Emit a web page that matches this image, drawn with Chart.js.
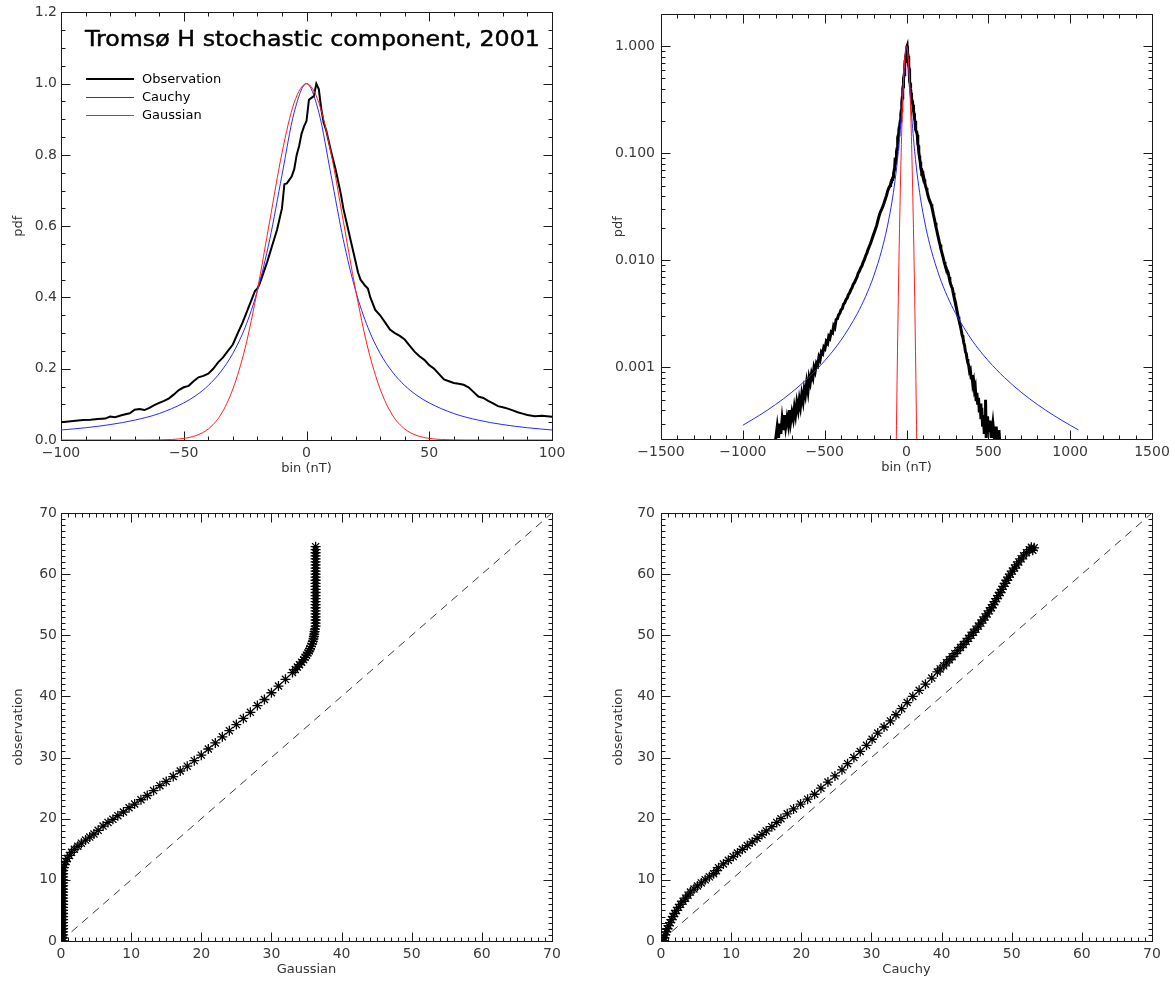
<!DOCTYPE html>
<html><head><meta charset="utf-8">
<script src="https://cdn.jsdelivr.net/npm/chart.js@4.4.1/dist/chart.umd.min.js"></script>
<style>
html,body{margin:0;padding:0;background:#fff;}
#wrap{position:relative;width:1175px;height:981px;overflow:hidden;background:#fff;}
canvas{position:absolute;left:0;top:0;}
.t{position:absolute;font-family:'DejaVu Sans',sans-serif;color:#000;white-space:nowrap;}
</style></head><body>
<div id="wrap">
<canvas id="c1" width="1175" height="981"></canvas>
<canvas id="c2" width="1175" height="981"></canvas>
<canvas id="c3" width="1175" height="981"></canvas>
<canvas id="c4" width="1175" height="981"></canvas>
<div id="ttl" class="t" style="left:85px;top:28px;font-size:22px;line-height:22px;transform-origin:0 0;-webkit-text-stroke:0.45px #000;">Tromsø H stochastic component, 2001</div>
<div class="t" style="left:142px;top:72px;font-size:13px;line-height:13px;">Observation</div>
<div class="t" style="left:142px;top:90px;font-size:13px;line-height:13px;">Cauchy</div>
<div class="t" style="left:142px;top:108px;font-size:13px;line-height:13px;">Gaussian</div>
</div>
<script>
// ---------- DATA ----------
// Observed pdf (normalised histogram), left tail / core / right tail
const obsLeftBin = [-800,-790,-782,-775,-768,-760,-752,-745,-738,-730,-722,-715,-708,-700,-692,-685,-678,-670,-662,-655,-648,-640,-632,-625,-618,-610,-602,-595,-588,-580,-572,-565,-558,-550,-542,-535,-528,-520,-512,-505,-498,-490,-482,-475,-468,-460,-452,-445,-438,-430,-422,-415,-408,-400,-392,-385,-378,-370,-362,-355,-348,-340,-332,-325,-318,-310,-302,-295,-288,-280,-272,-265,-258,-250,-242,-235,-228,-220,-212,-205,-198,-190,-182,-175,-168,-160,-152,-145,-138,-130,-122,-115,-108];
const obsLeftPdf = [0.00021,0.00028,0.00022,0.00030,0.00024,0.00033,0.00026,0.00036,0.00028,0.00034,0.00029,0.00040,0.00031,0.00038,0.00033,0.00042,0.00036,0.00047,0.00040,0.00050,0.00043,0.00056,0.00048,0.00062,0.00055,0.00072,0.00060,0.00080,0.00072,0.00088,0.00080,0.00100,0.00092,0.00110,0.00105,0.00125,0.00118,0.00140,0.00135,0.00155,0.00150,0.00175,0.00168,0.00195,0.00188,0.00215,0.00210,0.00245,0.00235,0.00280,0.00285,0.00310,0.00320,0.00345,0.00355,0.00390,0.00400,0.00430,0.00445,0.00480,0.00495,0.00530,0.00560,0.00600,0.00620,0.00660,0.00700,0.00760,0.00790,0.00850,0.00890,0.00960,0.01010,0.0110,0.0117,0.0126,0.0134,0.0144,0.0156,0.0168,0.0180,0.0195,0.0212,0.0235,0.0258,0.0282,0.0300,0.0318,0.0340,0.0370,0.0405,0.0445,0.0475];
const obsCoreBin = [-100,-97,-94,-91,-88,-85,-82,-80,-78,-75,-72,-70,-68,-66,-64,-62,-60,-58,-56,-54,-52,-50,-48,-46,-44,-42,-40,-38,-36,-34,-32,-30,-28,-26,-24,-22,-21,-20,-19,-18,-16,-14,-12,-10,-9,-8,-6,-5,-4,-3,-2,-1,0,1,2,3,4,5,6,7,8,10,12,14,15,16,17,18,20,21,22,24,25,26,28,30,32,34,36,38,40,42,44,46,48,50,52,54,56,58,60,62,64,66,68,70,72,74,76,78,80,82,84,86,88,90,93,96,100];
const obsCorePdf = [0.050,0.052,0.054,0.056,0.057,0.059,0.060,0.066,0.064,0.070,0.075,0.085,0.087,0.084,0.090,0.098,0.104,0.110,0.117,0.128,0.140,0.148,0.152,0.165,0.176,0.180,0.186,0.200,0.218,0.232,0.250,0.268,0.300,0.330,0.365,0.400,0.418,0.425,0.440,0.460,0.500,0.545,0.590,0.650,0.718,0.720,0.740,0.760,0.800,0.825,0.860,0.880,0.895,0.955,0.960,0.965,1.000,0.985,0.930,0.890,0.870,0.810,0.755,0.690,0.650,0.620,0.590,0.560,0.500,0.470,0.450,0.432,0.425,0.400,0.365,0.350,0.330,0.310,0.300,0.292,0.282,0.265,0.248,0.235,0.225,0.210,0.200,0.185,0.170,0.165,0.160,0.158,0.155,0.148,0.135,0.122,0.118,0.110,0.103,0.095,0.092,0.088,0.083,0.078,0.074,0.070,0.067,0.068,0.065];
const obsRightBin = [104,108,112,116,120,125,130,135,140,145,150,155,160,165,170,175,180,185,190,195,200,205,210,215,220,225,230,235,240,245,250,255,260,265,270,275,280,285,290,295,300,305,310,315,320,325,330,335,340,345,350,355,360,365,370,375,380,385,390,395,400,405,410,415,420,425,430,435,440,445,450,455,460,465,470,475,480,483,487,495,502,510,518,528,538,548,556,565,572];
const obsRightPdf = [0.061,0.057,0.053,0.050,0.0475,0.0445,0.0410,0.0385,0.0365,0.0350,0.0335,0.0315,0.0290,0.0265,0.0245,0.0225,0.0205,0.0190,0.0175,0.0162,0.0150,0.0140,0.0128,0.0120,0.0112,0.0105,0.0097,0.0091,0.0087,0.0083,0.0080,0.0076,0.0070,0.0064,0.0060,0.0057,0.0055,0.0050,0.0046,0.0043,0.0040,0.0036,0.0033,0.0030,0.0028,0.0026,0.0024,0.0022,0.0020,0.0019,0.0017,0.0016,0.0014,0.00135,0.0012,0.0011,0.00105,0.00092,0.00095,0.00080,0.00085,0.00070,0.00075,0.00062,0.00066,0.00050,0.00058,0.00045,0.00052,0.00038,0.00046,0.00033,0.00042,0.00028,0.00036,0.00024,0.00032,0.00050,0.00022,0.00035,0.00025,0.00032,0.00022,0.00030,0.00021,0.00028,0.00019,0.00026,0.00018];

// Cauchy fit (normalised)
const cauchyBin = [-1000,-900,-800,-700,-600,-500,-400,-300,-250,-200,-150,-120,-100,-90,-80,-70,-60,-50,-45,-40,-35,-30,-25,-20,-15,-10,-5,0,5,10,15,20,25,30,35,40,45,50,60,70,80,90,100,120,150,200,250,300,400,500,600,700,800,900,1000,1050];
const cauchyPdf = [0.000289,0.000357,0.000451,0.000589,0.000802,0.001155,0.00180,0.00320,0.00460,0.00717,0.01268,0.01967,0.0281,0.0344,0.0432,0.0557,0.0743,0.104,0.125,0.153,0.191,0.243,0.316,0.419,0.562,0.743,0.920,1.0,0.920,0.743,0.562,0.419,0.316,0.243,0.191,0.153,0.125,0.104,0.0743,0.0557,0.0432,0.0344,0.0281,0.01967,0.01268,0.00717,0.00460,0.00320,0.00180,0.001155,0.000802,0.000589,0.000451,0.000357,0.000289,0.000262];

// Gaussian fit (normalised)
const gaussBin = [-100,-80,-70,-65,-60,-55,-50,-45,-40,-35,-30,-25,-20,-15,-10,-5,0,5,10,15,20,25,30,35,40,45,50,55,60,65,70,80,100];
const gaussPdf = [0,0,0.00002,0.0001,0.0004,0.0014,0.0045,0.0125,0.031,0.070,0.143,0.258,0.421,0.614,0.805,0.947,1.0,0.947,0.805,0.614,0.421,0.258,0.143,0.070,0.031,0.0125,0.0045,0.0014,0.0004,0.0001,0.00002,0,0];

// Q-Q: Gaussian quantile vs observation quantile
const qqGaussX = [0.3,0.3,0.3,0.3,0.3,0.3,0.3,0.3,0.3,0.3,0.3,0.3,0.3,0.3,0.3,0.3,0.3,0.3,0.3,0.3,0.3,0.3,0.3,0.3,
  0.4,0.5,0.7,0.9,1.2,1.5,1.9,2.4,2.9,3.5,4.1,4.7,5.3,6.0,6.7,7.4,8.1,8.9,9.7,10.5,11.4,12.3,13.2,14.1,15,16,17,18,19,20,21,22,23,24,25,26,27,28,29,30,31,32,33,
  33.4,33.7,34.0,34.3,34.6,34.8,35.0,35.2,35.4,35.5,35.65,35.8,35.9,36.0,36.05,36.1,36.15,36.2,
  36.3,36.3,36.3,36.3,36.3,36.3,36.3,36.3,36.3,36.3,36.3,36.3,36.3,36.3,36.3,36.3,36.3,36.3,36.3,36.3,36.3,36.3,36.3,36.3,36.3,36.3,36.3];
const qqGaussObs = [0,0.5,1,1.5,2,2.5,3,3.5,4,4.5,5,5.5,6,6.5,7,7.5,8,8.5,9,9.5,10,10.5,11,11.5,
  12,12.5,13,13.5,14,14.5,15,15.5,16,16.5,17,17.5,18.1,18.8,19.4,19.9,20.5,21.1,21.8,22.4,23.1,23.8,24.6,25.4,26.1,26.9,27.8,28.6,29.5,30.4,31.4,32.4,33.4,34.4,35.4,36.4,37.4,38.5,39.5,40.6,41.7,42.8,43.9,
  44.4,44.8,45.2,45.6,46.0,46.4,46.75,47.1,47.45,47.8,48.2,48.6,49.0,49.4,49.8,50.2,50.6,51.0,
  51.5,52,52.5,53,53.5,54,54.5,55,55.5,56,56.5,57,57.5,58,58.5,59,59.5,60,60.5,61,61.5,62,62.5,63,63.5,64,64.5];

// Q-Q: Cauchy quantile vs observation quantile
const qqCauchyX = [0.4,0.5,0.6,0.75,0.9,1.1,1.3,1.5,1.7,1.95,2.2,2.5,2.8,3.15,3.5,3.85,4.2,4.7,5.2,5.75,6.3,6.9,7.5,7.9,8.2,
  8.9,9.6,10.3,10.9,11.6,12.3,13.0,13.7,14.4,15.0,15.8,16.5,17.1,18.0,18.9,19.9,20.9,21.9,
  22.8,23.8,24.8,25.8,26.6,27.5,28.4,29.3,30.1,30.9,31.8,32.7,33.5,34.3,35.1,35.9,36.8,37.7,38.6,
  39.4,39.8,40.3,40.7,41.1,41.5,41.9,42.3,42.7,43.1,43.5,43.85,44.2,44.55,44.9,45.25,45.6,45.9,46.2,46.5,46.8,47.1,47.35,47.6,47.85,48.1,48.35,48.6,48.8,49.05,49.3,49.55,49.8,50.1,50.4,50.7,51.0,51.35,51.7,52.1,52.5,
  53.2,52.8,53.0];
const qqCauchyObs = [0,0.5,1,1.5,2,2.5,3,3.5,4,4.5,5,5.5,6,6.5,7,7.5,8,8.5,9,9.5,10,10.5,11,11.5,12,
  12.6,13.2,13.8,14.4,15,15.6,16.2,16.8,17.4,18,18.7,19.4,20,20.8,21.6,22.4,23.2,24,
  25,26,27,28,29,30,31,32,33,34,35,36,37,38,39,40,41,42,43,
  44,44.5,45,45.5,46,46.5,47,47.5,48,48.5,49,49.5,50,50.5,51,51.5,52,52.5,53,53.5,54,54.5,55,55.5,56,56.5,57,57.5,58,58.5,59,59.5,60,60.5,61,61.5,62,62.5,63,63.5,64,
  64.3,64.4,63.9];

// Reference line y = x
const diagX = [0, 70];
const diagY = [0, 70];

// Tick labels
const pdfLinXTicks = [-100, -50, 0, 50, 100];
const pdfLinYTicks = [0, 0.2, 0.4, 0.6, 0.8, 1.0, 1.2];
const pdfLogXTicks = [-1500, -1000, -500, 0, 500, 1000, 1500];
const pdfLogYTicks = [0.001, 0.01, 0.1, 1];
const qqTicks = [0, 10, 20, 30, 40, 50, 60, 70];

// ---------- HELPERS ----------
const pts = (xs, ys) => xs.map((x, i) => ({x, y: ys[i]}));
const range = (a, b, s) => { const r = []; for (let v = a; v <= b + 1e-9; v += s) r.push(+v.toFixed(6)); return r; };
const logMinor = (lo, hi) => { const r = []; for (let e = -5; e <= 1; e++) for (let m = 2; m <= 9; m++) { const v = m * Math.pow(10, e); if (v >= lo && v <= hi) r.push(v); } return r; };
const minus = v => (v < 0 ? '\u2212' + Math.abs(v) : String(v));

Chart.defaults.font.family = "'DejaVu Sans', sans-serif";
Chart.defaults.color = '#333';

const BLUE = 'rgb(40,40,255)', RED = 'rgb(255,30,30)';

const idlFrame = {
  id: 'idlFrame',
  beforeDatasetsDraw(chart, args, o) {
    const {ctx, chartArea: a} = chart;
    const xs = chart.scales.x, ys = chart.scales.y;
    const L = Math.round(a.left) + 0.5, R = Math.round(a.right) + 0.5;
    const T = Math.round(a.top) + 0.5, B = Math.round(a.bottom) + 0.5;
    ctx.save();
    ctx.strokeStyle = '#1a1a1a';
    ctx.lineWidth = 1;
    ctx.beginPath();
    ctx.rect(L, T, R - L, B - T);
    const xt = (vals, len) => vals.forEach(v => {
      const p = Math.round(xs.getPixelForValue(v)) + 0.5;
      ctx.moveTo(p, B); ctx.lineTo(p, B - len);
      ctx.moveTo(p, T); ctx.lineTo(p, T + len);
    });
    const yt = (vals, len) => vals.forEach(v => {
      const p = Math.round(ys.getPixelForValue(v)) + 0.5;
      ctx.moveTo(L, p); ctx.lineTo(L + len, p);
      ctx.moveTo(R, p); ctx.lineTo(R - len, p);
    });
    xt(o.xMajor, 9); xt(o.xMinor, 4);
    yt(o.yMajor, 9); yt(o.yMinor, 4);
    ctx.stroke();
    // legend sample lines (inside the plot frame, top-left)
    (o.legend || []).forEach(it => {
      ctx.beginPath();
      ctx.strokeStyle = it.color;
      ctx.lineWidth = it.width;
      ctx.moveTo(86, it.y); ctx.lineTo(134, it.y);
      ctx.stroke();
    });
    ctx.restore();
  }
};

function axis({type = 'linear', min, max, major, title, pad, size, fmt, horiz}) {
  return {
    type, min, max, bounds: 'data',
    grid: {display: false, drawTicks: false}, border: {display: false},
    afterBuildTicks: s => { s.ticks = major.map(v => ({value: v})); },
    ticks: {callback: fmt, padding: pad, autoSkip: false, maxRotation: 0, minRotation: 0,
            font: {size: 14}, color: '#3a3a3a'},
    title: {display: true, text: title, font: {size: 13}, color: '#333', padding: {top: 4, bottom: 4}},
    afterFit: s => { if (horiz) s.height = size; else s.width = size; }
  };
}

function make(id, padding, xAx, yAx, datasets, frame) {
  return new Chart(document.getElementById(id), {
    type: 'scatter',
    data: {datasets},
    options: {
      responsive: false, animation: false, devicePixelRatio: 1, events: [],
      layout: {padding},
      plugins: {legend: {display: false}, tooltip: {enabled: false}, idlFrame: frame},
      scales: {x: xAx, y: yAx}
    },
    plugins: [idlFrame]
  });
}

const lineDs = (label, data, color, width, smooth) => ({
  label, data, borderColor: color, backgroundColor: color, borderWidth: width,
  showLine: true, pointRadius: 0, tension: 0,
  cubicInterpolationMode: smooth ? 'monotone' : 'default'
});
const starDs = data => ({
  data, pointStyle: 'star', pointRadius: 5, borderWidth: 1.3,
  borderColor: '#000', backgroundColor: '#000', showLine: false, clip: 0
});
const dashDs = data => ({
  data, borderColor: '#3a3a3a', borderWidth: 1, borderDash: [8, 6],
  showLine: true, pointRadius: 0
});

const obsBin = obsLeftBin.concat(obsCoreBin, obsRightBin);
const obsPdf = obsLeftPdf.concat(obsCorePdf, obsRightPdf);
const obsPts = pts(obsBin, obsPdf);
const cauchyPts = pts(cauchyBin, cauchyPdf);
const gaussPts = pts(gaussBin, gaussPdf);

// Panel 1: linear pdf
make('c1', {left: 7, right: 623, top: 12, bottom: 501},
  axis({min: -100, max: 100, major: pdfLinXTicks, title: 'bin (nT)', pad: 5, size: 40, fmt: minus, horiz: true}),
  axis({min: 0, max: 1.2, major: pdfLinYTicks, title: 'pdf', pad: 4, size: 54, fmt: v => v.toFixed(1)}),
  [lineDs('Gaussian', gaussPts, RED, 1, true),
   lineDs('Cauchy', cauchyPts.filter(p => p.x >= -100 && p.x <= 100), BLUE, 1, true),
   lineDs('Observation', obsPts, '#000', 2, false)],
  {xMajor: pdfLinXTicks, xMinor: range(-100, 100, 10), yMajor: pdfLinYTicks, yMinor: range(0, 1.2, 0.05),
   legend: [{y: 79, color: '#000', width: 2}, {y: 97.5, color: BLUE, width: 1}, {y: 115.5, color: RED, width: 1}]});

// Panel 2: log pdf
make('c2', {left: 607, right: 23, top: 11, bottom: 502},
  axis({min: -1500, max: 1500, major: pdfLogXTicks, title: 'bin (nT)', pad: 5, size: 40, fmt: minus, horiz: true}),
  axis({type: 'logarithmic', min: 0.000215, max: 1.98, major: pdfLogYTicks, title: 'pdf', pad: 6, size: 54, fmt: v => v.toFixed(3)}),
  [lineDs('Gaussian', gaussPts.filter(p => p.y > 0), RED, 1, true),
   lineDs('Cauchy', cauchyPts, BLUE, 1, true),
   lineDs('Observation', obsPts, '#000', 3, false)],
  {xMajor: pdfLogXTicks, xMinor: range(-1500, 1500, 100), yMajor: pdfLogYTicks, yMinor: logMinor(0.000215, 1.98)});

// Panel 3: Q-Q Gaussian
make('c3', {left: 7, right: 623, top: 513, bottom: 0},
  axis({min: 0, max: 70, major: qqTicks, title: 'Gaussian', pad: 5, size: 40, fmt: v => String(v), horiz: true}),
  axis({min: 0, max: 70, major: qqTicks, title: 'observation', pad: 4, size: 54, fmt: v => String(v)}),
  [starDs(pts(qqGaussX, qqGaussObs)), dashDs(pts(diagX, diagY))],
  {xMajor: qqTicks, xMinor: range(0, 70, 1), yMajor: qqTicks, yMinor: range(0, 70, 1)});

// Panel 4: Q-Q Cauchy
make('c4', {left: 607, right: 23, top: 513, bottom: 0},
  axis({min: 0, max: 70, major: qqTicks, title: 'Cauchy', pad: 5, size: 40, fmt: v => String(v), horiz: true}),
  axis({min: 0, max: 70, major: qqTicks, title: 'observation', pad: 6, size: 54, fmt: v => String(v)}),
  [starDs(pts(qqCauchyX, qqCauchyObs)), dashDs(pts(diagX, diagY))],
  {xMajor: qqTicks, xMinor: range(0, 70, 1), yMajor: qqTicks, yMinor: range(0, 70, 1)});

// fit title width to reference span
const ttl = document.getElementById('ttl');
ttl.style.transform = 'scaleX(' + (455 / ttl.offsetWidth) + ')';
</script>
</body></html>
